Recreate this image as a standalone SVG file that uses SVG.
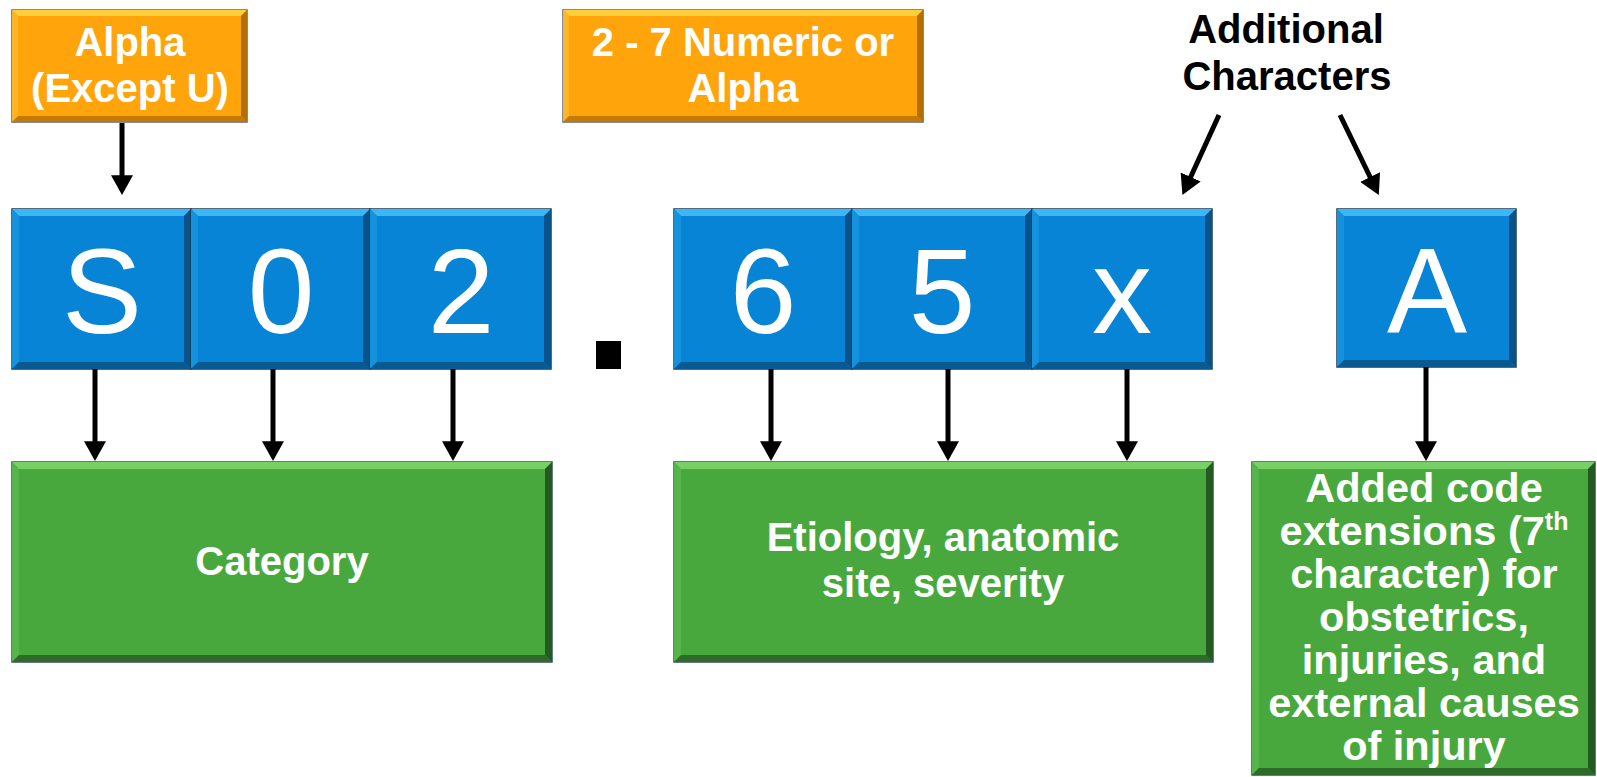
<svg xmlns="http://www.w3.org/2000/svg" width="1597" height="777" viewBox="0 0 1597 777">
<style>
.lbl{font-family:"Liberation Sans",Arial,sans-serif;font-weight:bold;font-size:40px;fill:#fff;text-anchor:middle}
.ext{font-size:41.5px}
.blk{fill:#000}
.big{font-family:"Liberation Sans",Arial,sans-serif;font-size:120px;fill:#fff;text-anchor:middle}
.o{fill:#FFA40A;stroke:#5a6478;stroke-width:1.5}
.ot{fill:#FFCF3A}.ol{fill:#FFB524}.ob{fill:#C47A06}.or{fill:#B46E08}
.b{fill:#0884D6;stroke:#1d3a55;stroke-width:1.5}
.bt{fill:#3DB6F5}.bl{fill:#1592DE}.bb{fill:#0A5A92}.br{fill:#07538A}
.g{fill:#48A83E;stroke:#34505e;stroke-width:1.5}
.gt{fill:#76D066}.gl{fill:#55B44A}.gb{fill:#2E6B28}.gr{fill:#245A22}
.ar{stroke:#000;stroke-width:5;fill:none;marker-end:url(#ah)}
</style>
<defs>
<marker id="ah" markerUnits="userSpaceOnUse" markerWidth="20" markerHeight="22" refX="8" refY="10" orient="auto" viewBox="0 0 18 20">
<path d="M0,0 L18,10 L0,20 z" fill="#000"/>
</marker>
</defs>
<rect width="1597" height="777" fill="#fff"/>

<g id="orange-alpha">
<rect class="o" x="12" y="10" width="235" height="112"/>
<polygon class="ot" points="12,10 247,10 241,16 18,16"/>
<polygon class="ol" points="12,10 18,16 18,116 12,122"/>
<polygon class="ob" points="12,122 247,122 241,116 18,116"/>
<polygon class="or" points="247,10 241,16 241,116 247,122"/>
<text class="lbl" x="130" y="56">Alpha</text>
<text class="lbl" x="130" y="102">(Except U)</text>
</g>

<g id="orange-numeric">
<rect class="o" x="563" y="10" width="360" height="112"/>
<polygon class="ot" points="563,10 923,10 917,16 569,16"/>
<polygon class="ol" points="563,10 569,16 569,116 563,122"/>
<polygon class="ob" points="563,122 923,122 917,116 569,116"/>
<polygon class="or" points="923,10 917,16 917,116 923,122"/>
<text class="lbl" x="743" y="56">2 - 7 Numeric or</text>
<text class="lbl" x="743" y="102">Alpha</text>
</g>

<g id="additional">
<text class="lbl blk" x="1286" y="43">Additional</text>
<text class="lbl blk" x="1287" y="90">Characters</text>
</g>

<g id="box-S">
<rect class="b" x="12" y="209" width="179" height="160"/>
<polygon class="bt" points="12,209 191,209 184,216 19,216"/>
<polygon class="bl" points="12,209 19,216 19,362 12,369"/>
<polygon class="bb" points="12,369 191,369 184,362 19,362"/>
<polygon class="br" points="191,209 184,216 184,362 191,369"/>
<text class="big" x="102" y="333">S</text>
</g>
<g id="box-0">
<rect class="b" x="191" y="209" width="179" height="160"/>
<polygon class="bt" points="191,209 370,209 363,216 198,216"/>
<polygon class="bl" points="191,209 198,216 198,362 191,369"/>
<polygon class="bb" points="191,369 370,369 363,362 198,362"/>
<polygon class="br" points="370,209 363,216 363,362 370,369"/>
<text class="big" x="281" y="333">0</text>
</g>
<g id="box-2">
<rect class="b" x="370" y="209" width="181" height="160"/>
<polygon class="bt" points="370,209 551,209 544,216 377,216"/>
<polygon class="bl" points="370,209 377,216 377,362 370,369"/>
<polygon class="bb" points="370,369 551,369 544,362 377,362"/>
<polygon class="br" points="551,209 544,216 544,362 551,369"/>
<text class="big" x="461" y="333">2</text>
</g>

<g id="dot">
<rect x="596" y="341" width="25" height="28" fill="#000"/>
</g>

<g id="box-6">
<rect class="b" x="674" y="209" width="178" height="160"/>
<polygon class="bt" points="674,209 852,209 845,216 681,216"/>
<polygon class="bl" points="674,209 681,216 681,362 674,369"/>
<polygon class="bb" points="674,369 852,369 845,362 681,362"/>
<polygon class="br" points="852,209 845,216 845,362 852,369"/>
<text class="big" x="763" y="333">6</text>
</g>
<g id="box-5">
<rect class="b" x="852" y="209" width="180" height="160"/>
<polygon class="bt" points="852,209 1032,209 1025,216 859,216"/>
<polygon class="bl" points="852,209 859,216 859,362 852,369"/>
<polygon class="bb" points="852,369 1032,369 1025,362 859,362"/>
<polygon class="br" points="1032,209 1025,216 1025,362 1032,369"/>
<text class="big" x="942" y="333">5</text>
</g>
<g id="box-x">
<rect class="b" x="1032" y="209" width="180" height="160"/>
<polygon class="bt" points="1032,209 1212,209 1205,216 1039,216"/>
<polygon class="bl" points="1032,209 1039,216 1039,362 1032,369"/>
<polygon class="bb" points="1032,369 1212,369 1205,362 1039,362"/>
<polygon class="br" points="1212,209 1205,216 1205,362 1212,369"/>
<text class="big" x="1122" y="333">x</text>
</g>
<g id="box-A">
<rect class="b" x="1337" y="209" width="179" height="158"/>
<polygon class="bt" points="1337,209 1516,209 1509,216 1344,216"/>
<polygon class="bl" points="1337,209 1344,216 1344,360 1337,367"/>
<polygon class="bb" points="1337,367 1516,367 1509,360 1344,360"/>
<polygon class="br" points="1516,209 1509,216 1509,360 1516,367"/>
<text class="big" x="1427" y="332">A</text>
</g>

<g id="category">
<rect class="g" x="12" y="462" width="540" height="200"/>
<polygon class="gt" points="12,462 552,462 545,469 19,469"/>
<polygon class="gl" points="12,462 19,469 19,655 12,662"/>
<polygon class="gb" points="12,662 552,662 545,655 19,655"/>
<polygon class="gr" points="552,462 545,469 545,655 552,662"/>
<text class="lbl" x="282" y="575">Category</text>
</g>

<g id="etiology">
<rect class="g" x="674" y="462" width="539" height="200"/>
<polygon class="gt" points="674,462 1213,462 1206,469 681,469"/>
<polygon class="gl" points="674,462 681,469 681,655 674,662"/>
<polygon class="gb" points="674,662 1213,662 1206,655 681,655"/>
<polygon class="gr" points="1213,462 1206,469 1206,655 1213,662"/>
<text class="lbl" x="943" y="551">Etiology, anatomic</text>
<text class="lbl" x="943" y="597">site, severity</text>
</g>

<g id="extensions">
<rect class="g" x="1252" y="462" width="343" height="313"/>
<polygon class="gt" points="1252,462 1595,462 1588,469 1259,469"/>
<polygon class="gl" points="1252,462 1259,469 1259,768 1252,775"/>
<polygon class="gb" points="1252,775 1595,775 1588,768 1259,768"/>
<polygon class="gr" points="1595,462 1588,469 1588,768 1595,775"/>
<text class="lbl ext" x="1424" y="502">Added code</text>
<text class="lbl ext" x="1424" y="545">extensions (7<tspan font-size="25" dy="-15">th</tspan></text>
<text class="lbl ext" x="1424" y="588">character) for</text>
<text class="lbl ext" x="1424" y="631">obstetrics,</text>
<text class="lbl ext" x="1424" y="674">injuries, and</text>
<text class="lbl ext" x="1424" y="717">external causes</text>
<text class="lbl ext" x="1424" y="760">of injury</text>
</g>

<g id="connectors">
<line class="ar" x1="122" y1="123" x2="122" y2="184"/>
<line class="ar" x1="1219" y1="115" x2="1187" y2="185"/>
<line class="ar" x1="1340" y1="115" x2="1374" y2="185"/>
<line class="ar" x1="95" y1="369" x2="95" y2="450"/>
<line class="ar" x1="273" y1="369" x2="273" y2="450"/>
<line class="ar" x1="453" y1="369" x2="453" y2="450"/>
<line class="ar" x1="771" y1="369" x2="771" y2="450"/>
<line class="ar" x1="948" y1="369" x2="948" y2="450"/>
<line class="ar" x1="1127" y1="369" x2="1127" y2="450"/>
<line class="ar" x1="1426" y1="367" x2="1426" y2="450"/>
</g>
</svg>
